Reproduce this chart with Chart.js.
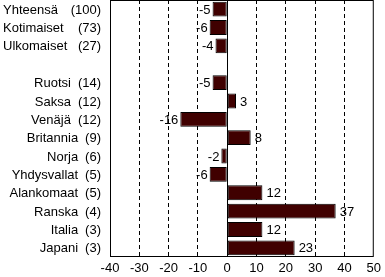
<!DOCTYPE html>
<html>
<head>
<meta charset="utf-8">
<script src="https://cdn.jsdelivr.net/npm/chart.js@4/dist/chart.umd.min.js"></script>
<style>
  html, body { margin: 0; padding: 0; background: #fff; }
  #wrap { width: 385px; height: 277px; }
</style>
</head>
<body>
<div id="wrap"><canvas id="chart"></canvas></div>
<script>
var categories = ["Yhteensä", "Kotimaiset", "Ulkomaiset", "", "Ruotsi", "Saksa", "Venäjä",
  "Britannia", "Norja", "Yhdysvallat", "Alankomaat", "Ranska", "Italia", "Japani"];
var counts = ["(100)", "(73)", "(27)", "", "(14)", "(12)", "(12)", "(9)", "(6)", "(5)", "(5)", "(4)", "(3)", "(3)"];
var values = [-5, -6, -4, null, -5, 3, -16, 8, -2, -6, 12, 37, 12, 23];
var xTicks = [-40, -30, -20, -10, 0, 10, 20, 30, 40, 50];

var FAMILY = "'Liberation Sans', Arial, sans-serif";
var FONT = "13px " + FAMILY;

// frame, solid zero line, value labels and two-column category labels
var extras = {
  id: "extras",
  beforeDatasetsDraw: function(chart) {
    var ctx = chart.ctx, a = chart.chartArea;
    var x0 = chart.scales.x.getPixelForValue(0);
    ctx.save();
    ctx.strokeStyle = "#000";
    ctx.lineWidth = 1;
    ctx.beginPath();
    ctx.moveTo(Math.round(x0) + 0.5, a.top);
    ctx.lineTo(Math.round(x0) + 0.5, a.bottom);
    ctx.stroke();
    ctx.restore();
  },
  afterDatasetsDraw: function(chart) {
    var ctx = chart.ctx, a = chart.chartArea;
    var meta = chart.getDatasetMeta(0);
    ctx.save();
    ctx.strokeStyle = "#000";
    ctx.lineWidth = 1;
    ctx.strokeRect(a.left + 0.5, a.top + 0.5, a.right - a.left - 1, a.bottom - a.top - 1);
    ctx.font = FONT;
    ctx.fillStyle = "#000";
    ctx.textBaseline = "middle";
    meta.data.forEach(function(bar, i) {
      var v = values[i];
      if (v === null) return;
      if (v < 0) {
        ctx.textAlign = "right";
        ctx.fillText(String(v), bar.x - 2, bar.y + 1);
      } else {
        ctx.textAlign = "left";
        ctx.fillText(String(v), bar.x + 4, bar.y + 1);
      }
    });
    // category labels
    var ys = chart.scales.y;
    categories.forEach(function(c, i) {
      if (!c) return;
      var y = ys.getPixelForValue(i) + 1;
      ctx.textAlign = "right";
      ctx.fillText(counts[i], 101, y);
      if (i < 3) {
        ctx.textAlign = "left";
        ctx.fillText(c, 3, y);
      } else {
        ctx.fillText(c, 101 - ctx.measureText(counts[i]).width - 7, y);
      }
    });
    ctx.restore();
  }
};

new Chart(document.getElementById("chart"), {
  type: "bar",
  data: {
    labels: categories,
    datasets: [{
      data: values,
      backgroundColor: "#400000",
      borderColor: "#000000",
      borderWidth: 1,
      borderSkipped: false,
      barPercentage: 0.95,
      categoryPercentage: 0.85
    }]
  },
  plugins: [extras],
  options: {
    indexAxis: "y",
    responsive: true,
    maintainAspectRatio: false,
    animation: false,
    layout: { padding: { top: 0, right: 6, bottom: 0, left: 0 } },
    plugins: { legend: { display: false }, tooltip: { enabled: false } },
    scales: {
      x: {
        min: -40,
        max: 50,
        afterBuildTicks: function(scale) {
          scale.ticks = xTicks.map(function(v) { return { value: v }; });
        },
        afterFit: function(scale) { scale.height = 20; },
        grid: {
          color: function(c) {
            var v = c.tick && c.tick.value;
            return (v === -40 || v === 0 || v === 50) ? "rgba(0,0,0,0)" : "#000";
          },
          drawTicks: false
        },
        border: { display: false, dash: [4, 3] },
        ticks: {
          color: "#000",
          font: { family: FAMILY, size: 13 },
          padding: 4,
          maxRotation: 0
        }
      },
      y: {
        afterFit: function(scale) { scale.width = 110; },
        grid: { display: false, drawTicks: false },
        border: { display: false },
        ticks: { display: false }
      }
    }
  }
});
</script>
</body>
</html>
